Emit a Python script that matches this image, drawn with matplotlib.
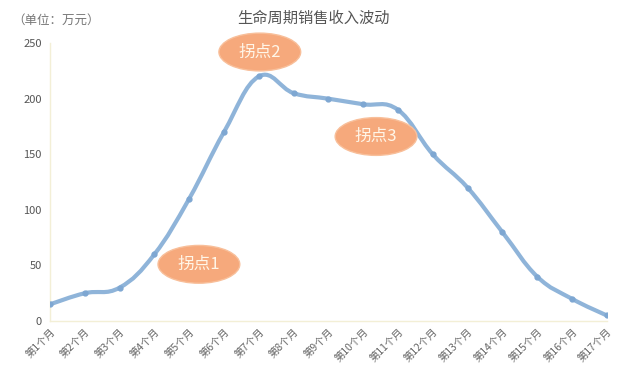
import matplotlib
matplotlib.use('Agg')
from matplotlib import pyplot as plt
from matplotlib.path import Path
from matplotlib.patches import PathPatch, Ellipse
import numpy as np

plt.rcParams['font.family'] = ['Noto Sans CJK SC', 'DejaVu Sans']

# data
months = ['第%d个月' % i for i in range(1, 18)]
sales = [15, 25, 30, 60, 110, 170, 220, 205, 200, 195, 190, 150, 120, 80, 40, 20, 5]
y_ticks = [0, 50, 100, 150, 200, 250]
turn_labels = ['拐点1', '拐点2', '拐点3']


def smooth_path(xs, ys, k=0.2):
    """Build a cubic bezier path through every point (catmull-rom style)"""
    pts = np.column_stack([xs, ys]).astype(float)
    n = len(pts)
    verts = [pts[0]]
    codes = [Path.MOVETO]
    for i in range(n - 1):
        p0 = pts[i - 1] if i > 0 else pts[i]
        p1 = pts[i]
        p2 = pts[i + 1]
        p3 = pts[i + 2] if i + 2 < n else pts[i + 1]
        c1 = p1 + (p2 - p0) * k
        c2 = p2 - (p3 - p1) * k
        verts += [c1, c2, p2]
        codes += [Path.CURVE4] * 3
    return Path(verts, codes)


fig = plt.figure(figsize=(6.27, 3.75), dpi=100)
ax = fig.add_axes([0.0797, 0.144, 0.888, 0.741])

x = np.arange(len(months))
line_color = '#8fb4d9'
ax.add_patch(PathPatch(smooth_path(x, sales), fill=False,
                       edgecolor=line_color, lw=3, capstyle='round', zorder=3))
ax.plot(x, sales, 'o', color='#7ea7d2', ms=3.5, zorder=4)

ax.set_xlim(0, len(months) - 1)
ax.set_ylim(0, 250)
ax.set_yticks(y_ticks)
ax.set_xticks(x)
ax.set_xticklabels(months, rotation=45, ha='right', rotation_mode='anchor')
ax.tick_params(axis='x', labelsize=7.5, colors='#666666', length=0, pad=4)
ax.tick_params(axis='y', labelsize=8, colors='#555555', length=0, pad=6)

for side in ['top', 'right']:
    ax.spines[side].set_visible(False)
ax.spines['left'].set_color('#f3efd6')
ax.spines['bottom'].set_color('#f3efd6')
ax.spines['left'].set_linewidth(1)
ax.spines['bottom'].set_linewidth(1)

# turning point bubbles
bubble_pos = [(4.28, 51), (6.03, 242), (9.37, 166)]
for lab, (bx, by) in zip(turn_labels, bubble_pos):
    ax.add_patch(Ellipse((bx, by), 2.35, 34, facecolor='#f6a97c',
                         edgecolor='#f8bf9a', lw=1, zorder=5, clip_on=False))
    ax.text(bx, by, lab, ha='center', va='center', fontsize=12,
            color='#fff6e8', zorder=6)

fig.text(0.5, 0.952, '生命周期销售收入波动', ha='center', va='center',
         fontsize=11, color='#555555')
fig.text(0.02, 0.945, '（单位：万元）', ha='left', va='center',
         fontsize=9, color='#777777')

fig.savefig('out.png', dpi=100, facecolor='white')
